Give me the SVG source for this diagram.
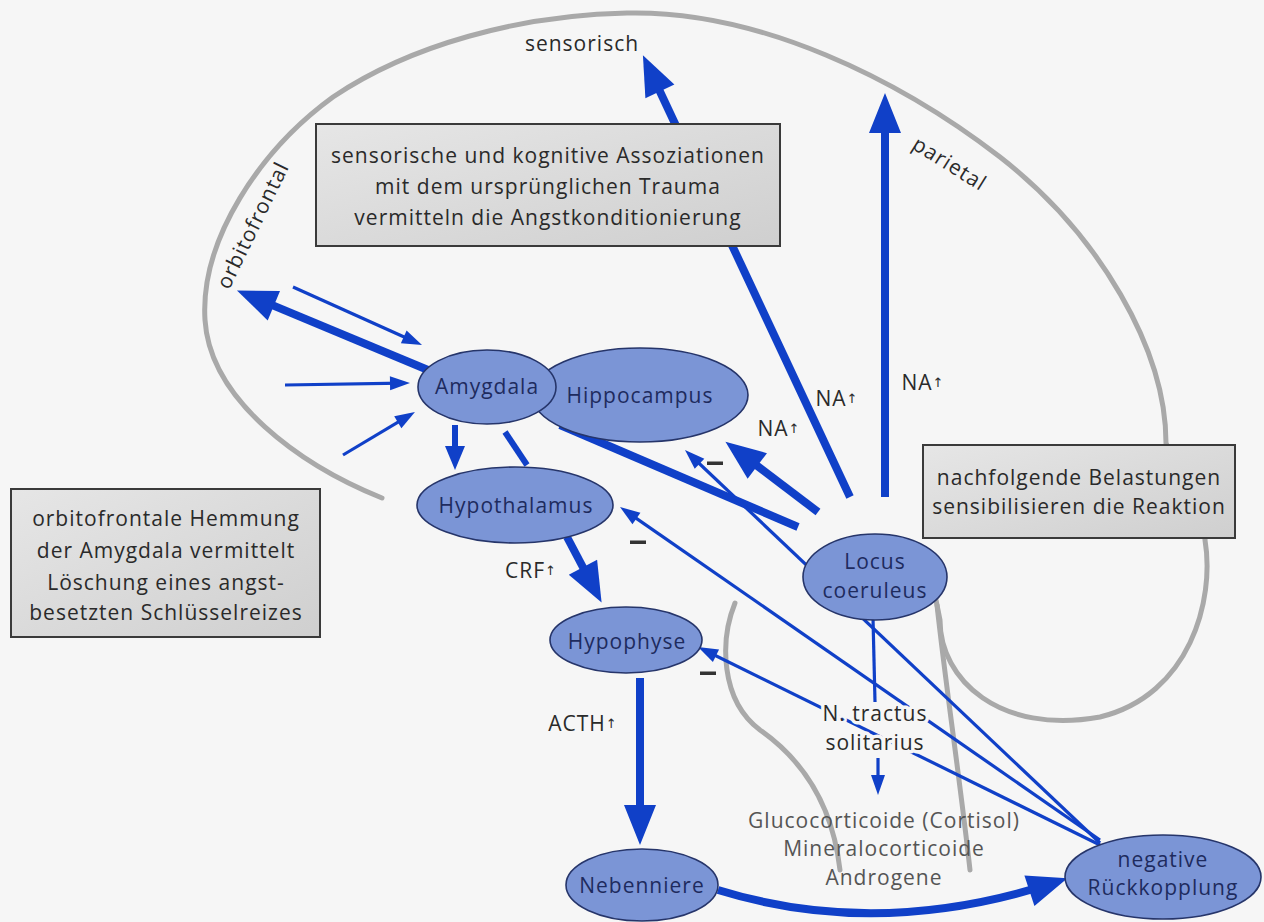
<svg xmlns="http://www.w3.org/2000/svg" width="1264" height="922" viewBox="0 0 1264 922">
<defs>
<style>
.t{font-family:"Open Sans","Noto Sans","DejaVu Sans",sans-serif;font-size:21px;fill:#2a2a2a;text-anchor:middle;dominant-baseline:central;letter-spacing:1px}
.n{fill:#1e2b5e}
.g{fill:#555}
.halo{stroke:#f6f6f6;stroke-width:7px;paint-order:stroke;stroke-linejoin:round}
.ar{font-family:"DejaVu Sans",sans-serif;font-size:13px}
.brain{fill:none;stroke:#a9a9a9;stroke-width:5;stroke-linecap:round}
.box{fill:url(#boxg);stroke:#3a3a3a;stroke-width:2}
.node{fill:#7b95d6;stroke:#26356a;stroke-width:1.6}
.thick{stroke:#1040c8;stroke-width:8;fill:none}
.med{stroke:#1040c8;stroke-width:6;fill:none}
.thin{stroke:#1040c8;stroke-width:3.2;fill:none}
.minus{fill:#333}
</style>
<linearGradient id="boxg" x1="0" y1="0" x2="1" y2="1">
<stop offset="0" stop-color="#e6e6e6"/>
<stop offset="1" stop-color="#cfcfcf"/>
</linearGradient>
<marker id="hb" markerUnits="userSpaceOnUse" markerWidth="42" markerHeight="34" refX="28" refY="16" orient="auto" overflow="visible"><path d="M0,0 L40,16 L0,32 Z" fill="#1040c8"/></marker>
<marker id="hm" markerUnits="userSpaceOnUse" markerWidth="26" markerHeight="22" refX="14" refY="10" orient="auto" overflow="visible"><path d="M0,0 L24,10 L0,20 Z" fill="#1040c8"/></marker>
<marker id="ht" markerUnits="userSpaceOnUse" markerWidth="22" markerHeight="16" refX="12" refY="7" orient="auto" overflow="visible"><path d="M0,0 L20,7 L0,14 Z" fill="#1040c8"/></marker>
</defs>
<rect x="0" y="0" width="1264" height="922" fill="#f6f6f6"/>

<g id="brain-outline">
<path class="brain" d="M382,498 C300,465 210,400 205,320 C200,240 260,150 333,97 C410,45 520,15 627,13 C760,10 900,80 1000,157 C1100,235 1166,350 1166,443 C1180,480 1203,500 1205,540 C1215,600 1190,695 1100,717 C1000,735 940,680 940,620 L936,600"/>
<path class="brain" d="M735,603 C720,640 720,700 760,730 C800,758 832,800 840,870"/>
<path class="brain" d="M937,605 C945,680 960,780 970,870"/>
</g>

<g id="connectors">
<line class="thick" x1="850" y1="497" x2="648" y2="66" marker-end="url(#hb)"/>
<line class="thick" x1="885" y1="497" x2="885" y2="105" marker-end="url(#hb)"/>
<line class="thick" x1="818" y1="512" x2="735" y2="449" marker-end="url(#hb)"/>
<line class="thick" x1="798" y1="527" x2="560" y2="425"/>
<line class="thick" x1="428" y1="370" x2="248" y2="295" marker-end="url(#hb)"/>
<line class="thick" x1="567" y1="537" x2="596" y2="592" marker-end="url(#hb)"/>
<line class="thick" x1="640" y1="678" x2="640" y2="833" marker-end="url(#hb)"/>
<path class="thick" d="M718,890 Q880,940 1056,882" marker-end="url(#hb)"/>
<line class="med" x1="455" y1="425" x2="455" y2="460" marker-end="url(#hm)"/>
<line class="med" x1="505" y1="432" x2="527" y2="465" stroke-width="7"/>
<line class="thin" x1="293" y1="287" x2="414.7" y2="341.7" marker-end="url(#ht)"/>
<line class="thin" x1="285" y1="385" x2="402" y2="383.1" marker-end="url(#ht)"/>
<line class="thin" x1="343" y1="455" x2="408.1" y2="416.1" marker-end="url(#ht)"/>
<line class="thin" x1="1100" y1="843" x2="690.8" y2="455.5" marker-end="url(#ht)"/>
<line class="thin" x1="1100" y1="840" x2="626.6" y2="511.6" marker-end="url(#ht)"/>
<line class="thin" x1="1100" y1="845" x2="705.2" y2="650.5" marker-end="url(#ht)"/>
<line class="thin" x1="873" y1="618" x2="875" y2="702"/>
<line class="thin" x1="878" y1="758" x2="878" y2="787" marker-end="url(#ht)"/>
</g>

<g id="box-assoziationen">
<rect class="box" x="316" y="124" width="464" height="122"/>
<text class="t" x="548" y="155">sensorische und kognitive Assoziationen</text>
<text class="t" x="548" y="186">mit dem ursprünglichen Trauma</text>
<text class="t" x="548" y="217">vermitteln die Angstkonditionierung</text>
</g>
<g id="box-hemmung">
<rect class="box" x="11" y="489" width="309" height="148"/>
<text class="t" x="166" y="518">orbitofrontale Hemmung</text>
<text class="t" x="166" y="550">der Amygdala vermittelt</text>
<text class="t" x="166" y="582">Löschung eines angst-</text>
<text class="t" x="166" y="612">besetzten Schlüsselreizes</text>
</g>
<g id="box-belastungen">
<rect class="box" x="923" y="445" width="312" height="93"/>
<text class="t" x="1079" y="477">nachfolgende Belastungen</text>
<text class="t" x="1079" y="506">sensibilisieren die Reaktion</text>
</g>

<g id="hippocampus">
<ellipse class="node" cx="640" cy="395" rx="108" ry="47"/>
<text class="t n" x="640" y="395">Hippocampus</text>
</g>
<g id="amygdala">
<ellipse class="node" cx="487" cy="387" rx="69" ry="37"/>
<text class="t n" x="487" y="386">Amygdala</text>
</g>
<g id="hypothalamus">
<ellipse class="node" cx="515" cy="505" rx="98" ry="38"/>
<text class="t n" x="516" y="505">Hypothalamus</text>
</g>
<g id="hypophyse">
<ellipse class="node" cx="626" cy="640" rx="76" ry="33"/>
<text class="t n" x="627" y="641">Hypophyse</text>
</g>
<g id="locus-coeruleus">
<ellipse class="node" cx="875" cy="577" rx="72" ry="43"/>
<text class="t n" x="875" y="561" font-size="20">Locus</text>
<text class="t n" x="875" y="590" font-size="20">coeruleus</text>
</g>
<g id="nebenniere">
<ellipse class="node" cx="642" cy="885" rx="76" ry="36"/>
<text class="t n" x="642" y="885">Nebenniere</text>
</g>
<g id="negative-rueckkopplung">
<ellipse class="node" cx="1163" cy="877" rx="98" ry="42"/>
<text class="t n" x="1163" y="859">negative</text>
<text class="t n" x="1163" y="887">Rückkopplung</text>
</g>
<g id="n-tractus-solitarius">
<text class="t halo" x="875" y="713">N. tractus</text>
<text class="t halo" x="875" y="742">solitarius</text>
</g>
<g id="hormone">
<text class="t g" x="884" y="820">Glucocorticoide (Cortisol)</text>
<text class="t g" x="884" y="848">Mineralocorticoide</text>
<text class="t g" x="884" y="877">Androgene</text>
</g>

<g id="labels">
<text class="t" x="582" y="43">sensorisch</text>
<text class="t" transform="translate(950,163) rotate(32)">parietal</text>
<text class="t" transform="translate(252,225) rotate(-64)">orbitofrontal</text>
<text class="t" x="837" y="398" font-size="19">NA<tspan class="ar">↑</tspan></text>
<text class="t" x="779" y="428" font-size="19">NA<tspan class="ar">↑</tspan></text>
<text class="t" x="923" y="382" font-size="19">NA<tspan class="ar">↑</tspan></text>
<text class="t" x="531" y="570" font-size="19">CRF<tspan class="ar">↑</tspan></text>
<text class="t" x="583" y="723" font-size="19">ACTH<tspan class="ar">↑</tspan></text>
<rect class="minus" x="707" y="461.5" width="16" height="3.5"/>
<rect class="minus" x="630" y="540.5" width="16" height="3.5"/>
<rect class="minus" x="700" y="671.5" width="16" height="3.5"/>
</g>
</svg>
